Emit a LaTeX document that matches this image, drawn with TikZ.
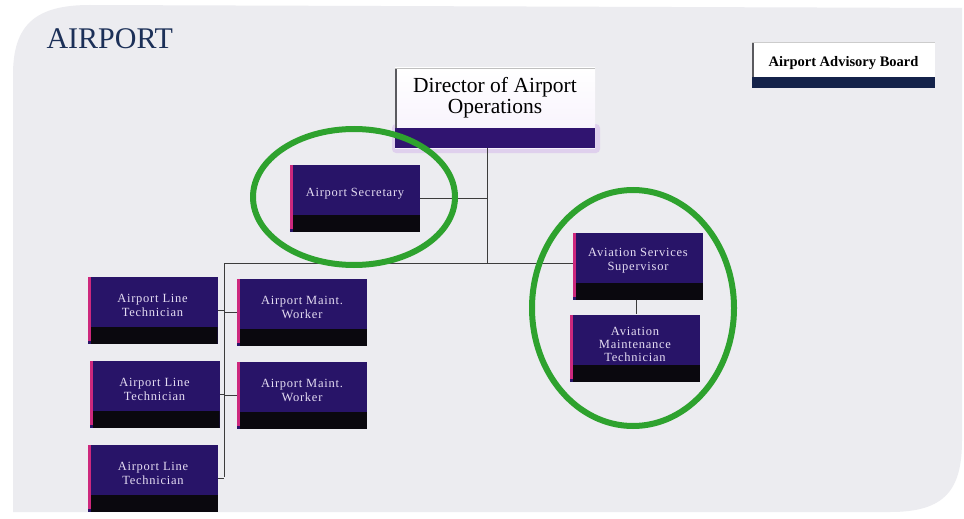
\documentclass[tikz,border=0pt]{standalone}
\usepackage{fontspec}
\setmainfont{Liberation Serif}
\newfontfamily\boxfont[LetterSpace=6]{Liberation Serif}
\definecolor{panel}{RGB}{236,236,240}
\definecolor{boxbody}{RGB}{40,20,104}
\definecolor{boxpink}{RGB}{205,40,125}
\definecolor{boxbar}{RGB}{10,8,14}
\definecolor{boxtext}{RGB}{228,220,242}
\definecolor{dirbar}{RGB}{48,20,112}
\definecolor{advbar}{RGB}{20,34,74}
\definecolor{titleblue}{RGB}{28,48,88}
\definecolor{ringgreen}{RGB}{46,162,46}
\definecolor{connline}{RGB}{60,60,60}
\definecolor{edgegray}{RGB}{90,90,95}
\definecolor{glow}{RGB}{215,190,235}
\begin{document}
\begin{tikzpicture}[x=1pt,y=-1pt,
 orgbox/.style={rectangle, fill=boxbody, minimum width=130pt, minimum height=67pt, inner sep=0pt,
   path picture={
     \fill[boxbar] ([xshift=3pt]path picture bounding box.south west) rectangle ([yshift=17pt]path picture bounding box.south east);
     \fill[boxpink] (path picture bounding box.north west) rectangle ([xshift=3pt,yshift=3pt]path picture bounding box.south west);
   }},
 boxlabel/.style={font=\boxfont\fontsize{12.5}{14}\selectfont, text=boxtext, align=center, yshift=5pt},
 dirbox/.style={rectangle, minimum width=200pt, minimum height=80pt, inner sep=0pt,
   top color=white, bottom color={rgb,255:red,246;green,240;blue,252},
   path picture={
     \fill[dirbar] (path picture bounding box.south west) rectangle ([yshift=20pt]path picture bounding box.south east);
     \fill[edgegray] (path picture bounding box.north west) rectangle ([xshift=2pt,yshift=20pt]path picture bounding box.south west);
     \fill[black!25] (path picture bounding box.north west) rectangle ([yshift=-1.5pt]path picture bounding box.north east);
   }},
 advbox/.style={rectangle, minimum width=183pt, minimum height=46pt, inner sep=0pt, fill=white,
   path picture={
     \fill[advbar] (path picture bounding box.south west) rectangle ([yshift=11pt]path picture bounding box.south east);
     \fill[edgegray] (path picture bounding box.north west) rectangle ([xshift=2pt,yshift=11pt]path picture bounding box.south west);
     \fill[black!20] (path picture bounding box.north west) rectangle ([yshift=-1.5pt]path picture bounding box.north east);
   }},
 conn/.style={draw=connline, line width=0.9pt},
 ring/.style={draw=ringgreen, line width=6pt},
]
\useasboundingbox (0,0) rectangle (964,519);
\fill[white] (0,0) rectangle (964,519);
% background panel
\fill[panel] (13,512) -- (13,75) .. controls (13,25) and (35,5) .. (90,5) -- (962,8) -- (962,440)
  .. controls (962,490) and (945,512) .. (890,512) -- cycle;

% title
\node[font=\fontsize{30}{30}\selectfont, text=titleblue, anchor=base west] (title) at (43,49) {AIRPORT};

% director
\fill[glow, opacity=0.6, rounded corners=4pt] (392,124) rectangle (600,153);
\node[dirbox, label={[font=\fontsize{21.5}{21}\selectfont, align=center, yshift=10pt]center:{Director of Airport\\Operations}}] (dir) at (495,108) {};

% advisory board
\node[advbox, label={[font=\bfseries\fontsize{14.5}{15}\selectfont, yshift=2pt]center:{Airport Advisory Board}}] (adv) at (843.5,65) {};

% purple boxes
\node[orgbox, label={[boxlabel]center:{Airport Secretary}}] (sec) at (355,198.5) {};
\node[orgbox, label={[boxlabel]center:{Aviation Services\\Supervisor}}] (sup) at (638,266) {};
\node[orgbox, label={[boxlabel,yshift=-1pt,font=\boxfont\fontsize{12.5}{13}\selectfont]center:{Aviation\\Maintenance\\Technician}}] (amt) at (635,348) {};
\node[orgbox, label={[boxlabel]center:{Airport Line\\Technician}}] (alt1) at (152.5,310.5) {};
\node[orgbox, label={[boxlabel]center:{Airport Line\\Technician}}] (alt2) at (154.5,394.5) {};
\node[orgbox, label={[boxlabel]center:{Airport Line\\Technician}}] (alt3) at (153,478.5) {};
\node[orgbox, label={[boxlabel]center:{Airport Maint.\\Worker}}] (amw1) at (302,312.5) {};
\node[orgbox, label={[boxlabel]center:{Airport Maint.\\Worker}}] (amw2) at (302,395.5) {};

% junctions
\coordinate (jmain) at (487,263);
\coordinate (jleft) at (224,263);
\coordinate (jbot) at (224,477);

% connectors
\draw[conn] ([xshift=-8pt]dir.south) -- (jmain);
\draw[conn] (sec.east) -- (sec.east -| jmain);
\draw[conn] (jleft) -- (jleft -| sup.west);
\draw[conn] (jleft) -- (jbot);
\draw[conn] (alt1.east) -- (alt1.east -| jleft);
\draw[conn] (alt2.east) -- (alt2.east -| jleft);
\draw[conn] (alt3.east) -- (alt3.east -| jleft);
\draw[conn] (amw1.west) -- (amw1.west -| jleft);
\draw[conn] (amw2.west) -- (amw2.west -| jleft);
\draw[conn] ([xshift=-2pt]sup.south) -- ([xshift=1pt]amt.north);

% green rings
\draw[ring] (354,197) ellipse [x radius=101pt, y radius=68pt];
\draw[ring] (633,308) ellipse [x radius=101pt, y radius=118pt];
\end{tikzpicture}
\end{document}
